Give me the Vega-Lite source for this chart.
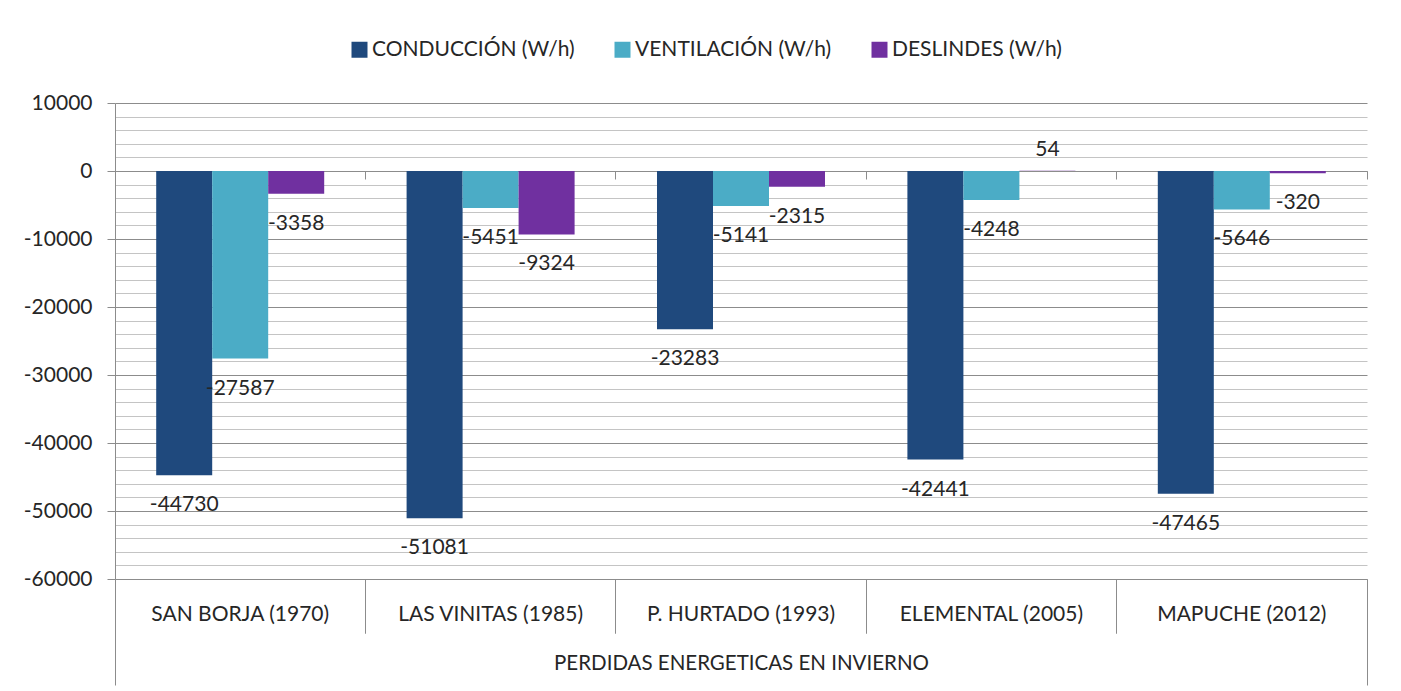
{
  "$schema": "https://vega.github.io/schema/vega-lite/v6.json",
  "width": 1252,
  "height": 476,
  "autosize": {"type": "none"},
  "padding": {"left": 115, "top": 103, "right": 34, "bottom": 112},
  "background": "white",
  "config": {
    "font": "Lato",
    "view": {"stroke": null},
    "locale": {"number": {"decimal": ".", "thousands": "", "grouping": [3], "currency": ["", ""], "minus": "-"}}
  },
  "data": {
    "values": [
      {"proyecto": "SAN BORJA (1970)", "serie": "CONDUCCIÓN (W/h)", "valor": -44730},
      {"proyecto": "SAN BORJA (1970)", "serie": "VENTILACIÓN (W/h)", "valor": -27587},
      {"proyecto": "SAN BORJA (1970)", "serie": "DESLINDES (W/h)", "valor": -3358},
      {"proyecto": "LAS VINITAS (1985)", "serie": "CONDUCCIÓN (W/h)", "valor": -51081},
      {"proyecto": "LAS VINITAS (1985)", "serie": "VENTILACIÓN (W/h)", "valor": -5451},
      {"proyecto": "LAS VINITAS (1985)", "serie": "DESLINDES (W/h)", "valor": -9324},
      {"proyecto": "P. HURTADO (1993)", "serie": "CONDUCCIÓN (W/h)", "valor": -23283},
      {"proyecto": "P. HURTADO (1993)", "serie": "VENTILACIÓN (W/h)", "valor": -5141},
      {"proyecto": "P. HURTADO (1993)", "serie": "DESLINDES (W/h)", "valor": -2315},
      {"proyecto": "ELEMENTAL (2005)", "serie": "CONDUCCIÓN (W/h)", "valor": -42441},
      {"proyecto": "ELEMENTAL (2005)", "serie": "VENTILACIÓN (W/h)", "valor": -4248},
      {"proyecto": "ELEMENTAL (2005)", "serie": "DESLINDES (W/h)", "valor": 54},
      {"proyecto": "MAPUCHE (2012)", "serie": "CONDUCCIÓN (W/h)", "valor": -47465},
      {"proyecto": "MAPUCHE (2012)", "serie": "VENTILACIÓN (W/h)", "valor": -5646},
      {"proyecto": "MAPUCHE (2012)", "serie": "DESLINDES (W/h)", "valor": -320}
    ]
  },
  "resolve": {"axis": {"x": "independent", "y": "independent"}},
  "layer": [
    {
      "mark": {"type": "bar"},
      "encoding": {
        "x": {
          "field": "proyecto", "type": "nominal",
          "sort": ["SAN BORJA (1970)", "LAS VINITAS (1985)", "P. HURTADO (1993)", "ELEMENTAL (2005)", "MAPUCHE (2012)"],
          "scale": {"paddingInner": 0, "paddingOuter": 0},
          "axis": {
            "orient": "bottom", "title": "PERDIDAS ENERGETICAS EN INVIERNO", "ticks": false,
            "domain": true, "domainColor": "#8c8c8c", "labelAngle": 0, "labelFontSize": 21, "labelLimit": 0,
            "labelPadding": 24, "labelColor": "#262626", "titleFontSize": 20.5, "titleFontWeight": "normal",
            "titleColor": "#262626", "titlePadding": 29, "grid": false
          }
        },
        "xOffset": {
          "field": "serie", "type": "nominal",
          "sort": ["CONDUCCIÓN (W/h)", "VENTILACIÓN (W/h)", "DESLINDES (W/h)"],
          "scale": {"paddingInner": 0, "paddingOuter": 0.7357}
        },
        "y": {
          "field": "valor", "type": "quantitative",
          "scale": {"domain": [-60000, 10000], "nice": false},
          "axis": {
            "orient": "left", "values": [10000, 0, -10000, -20000, -30000, -40000, -50000, -60000],
            "grid": true, "gridColor": "#8c8c8c", "tickSize": 8, "tickColor": "#8c8c8c",
            "domainColor": "#8c8c8c", "labelFontSize": 21, "labelPadding": 15, "labelColor": "#262626",
            "title": null, "format": "d"
          }
        },
        "color": {
          "field": "serie", "type": "nominal",
          "scale": {"domain": ["CONDUCCIÓN (W/h)", "VENTILACIÓN (W/h)", "DESLINDES (W/h)"], "range": ["#1F497D", "#4BACC6", "#7030A0"]},
          "legend": {
            "orient": "none", "legendX": 234, "legendY": -64, "direction": "horizontal", "title": null,
            "symbolType": "square", "symbolSize": 256, "symbolStrokeWidth": 0, "labelFontSize": 21,
            "labelLimit": 0, "columnPadding": 37, "labelOffset": 2, "labelColor": "#262626"
          }
        }
      }
    },
    {
      "transform": [{"filter": "datum.valor < 0"}],
      "mark": {"type": "text", "fontSize": 21, "dy": 30, "baseline": "middle", "align": "center", "color": "#262626"},
      "encoding": {
        "x": {
          "field": "proyecto", "type": "nominal",
          "sort": ["SAN BORJA (1970)", "LAS VINITAS (1985)", "P. HURTADO (1993)", "ELEMENTAL (2005)", "MAPUCHE (2012)"],
          "axis": {
            "orient": "bottom", "bandPosition": 0, "labels": false, "domain": false, "title": null, "grid": false,
            "ticks": true, "tickColor": "#8c8c8c",
            "tickSize": {"condition": {"test": "datum.index == 0", "value": 106}, "value": 54}
          }
        },
        "xOffset": {"field": "serie", "type": "nominal", "sort": ["CONDUCCIÓN (W/h)", "VENTILACIÓN (W/h)", "DESLINDES (W/h)"]},
        "y": {
          "field": "valor", "type": "quantitative",
          "axis": {
            "orient": "left",
            "values": [8000, 6000, 4000, 2000, -2000, -4000, -6000, -8000, -12000, -14000, -16000, -18000, -22000, -24000, -26000, -28000, -32000, -34000, -36000, -38000, -42000, -44000, -46000, -48000, -52000, -54000, -56000, -58000],
            "grid": true, "gridColor": "#c4c4c4", "labels": false, "ticks": false, "domain": false, "title": null
          }
        },
        "text": {"field": "valor", "type": "quantitative", "format": "d"}
      }
    },
    {
      "transform": [{"filter": "datum.valor >= 0"}],
      "mark": {"type": "text", "fontSize": 21, "dy": -21, "baseline": "middle", "align": "center", "color": "#262626"},
      "encoding": {
        "x": {
          "field": "proyecto", "type": "nominal",
          "sort": ["SAN BORJA (1970)", "LAS VINITAS (1985)", "P. HURTADO (1993)", "ELEMENTAL (2005)", "MAPUCHE (2012)"],
          "axis": {
            "orient": "bottom", "bandPosition": 1, "labels": false, "domain": false, "title": null, "grid": false,
            "ticks": true, "tickColor": "#8c8c8c",
            "tickSize": {"condition": {"test": "datum.index == 1", "value": 106}, "value": 54}
          }
        },
        "xOffset": {"field": "serie", "type": "nominal", "sort": ["CONDUCCIÓN (W/h)", "VENTILACIÓN (W/h)", "DESLINDES (W/h)"]},
        "y": {"field": "valor", "type": "quantitative", "axis": null},
        "text": {"field": "valor", "type": "quantitative", "format": "d"}
      }
    },
    {
      "mark": {"type": "bar", "opacity": 0},
      "encoding": {
        "x": {
          "field": "proyecto", "type": "nominal",
          "sort": ["SAN BORJA (1970)", "LAS VINITAS (1985)", "P. HURTADO (1993)", "ELEMENTAL (2005)", "MAPUCHE (2012)"],
          "axis": {
            "orient": "bottom", "offset": -408, "bandPosition": 1, "labels": false, "title": null, "grid": false,
            "domain": true, "domainColor": "#8c8c8c", "ticks": true, "tickSize": 8, "tickColor": "#8c8c8c"
          }
        },
        "xOffset": {"field": "serie", "type": "nominal", "sort": ["CONDUCCIÓN (W/h)", "VENTILACIÓN (W/h)", "DESLINDES (W/h)"]},
        "y": {"field": "valor", "type": "quantitative", "axis": null}
      }
    }
  ]
}
